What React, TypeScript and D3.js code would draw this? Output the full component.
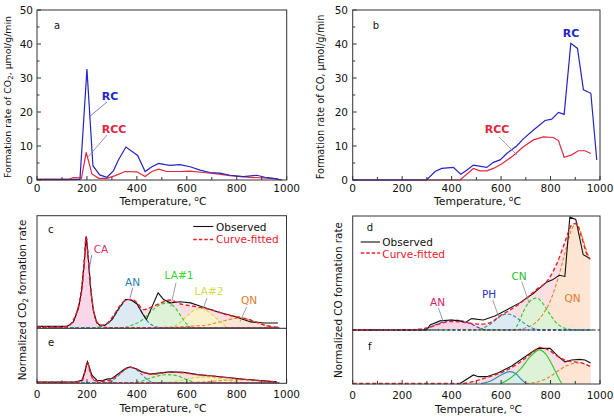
import React from "react";
import * as d3 from "d3";

// ---------- Panel a (CO2 formation rate) ----------
const aRC_T = [0, 100, 172, 200, 224, 251, 280, 306, 326, 356, 403, 433, 460, 487, 513, 533, 573, 613, 653, 693, 733, 773, 826, 880, 913, 946, 982];
const aRC_V = [0.1, 0.1, 0.2, 32.6, 4.2, 1.5, 0.8, 2.7, 5.9, 9.7, 7.2, 2.5, 3.9, 4.9, 4.5, 4.3, 4.5, 3.9, 2.9, 2.2, 2.0, 1.4, 1.0, 1.4, 0.8, 0.5, 0];
const aRCC_T = [0, 130, 145, 170, 178, 197, 220, 247, 280, 313, 353, 400, 433, 460, 487, 520, 573, 613, 667, 720, 773, 853, 907, 947, 965];
const aRCC_V = [0.3, 0.3, 0.7, 0.6, 0.5, 8.1, 1.8, 0.5, 0.5, 1.3, 2.5, 2.4, 1.0, 2.5, 3.2, 2.5, 2.5, 2.6, 2.2, 1.8, 1.3, 0.8, 0.6, 0.4, 0.4];

// ---------- Panel b (CO formation rate) ----------
const bRC_T = [0, 299, 333, 360, 407, 437, 461, 488, 542, 569, 596, 623, 663, 690, 731, 778, 805, 832, 855, 882, 909, 933, 963, 987];
const bRC_V = [0, 0, 2.5, 3.4, 3.7, 1.7, 2.9, 4.4, 3.7, 5.2, 5.9, 7.8, 10.0, 12.1, 14.7, 17.5, 17.9, 19.9, 19.3, 40.2, 38.7, 26.5, 25.5, 5.9];
const bRCC_T = [0, 434, 488, 515, 542, 569, 602, 650, 690, 731, 771, 811, 832, 855, 886, 912, 939, 963];
const bRCC_V = [0, 0, 3.4, 2.7, 2.7, 3.4, 4.7, 7.2, 9.8, 11.8, 12.7, 12.5, 11.6, 6.7, 7.4, 8.6, 8.6, 7.8];

// ---------- Panel c (normalized CO2, RC) ----------
const cObs_T = [0, 120, 146, 166, 179, 189, 197, 206, 216, 226, 240, 253, 273, 300, 327, 354, 374, 401, 421, 438, 485, 507, 534, 574, 615, 655, 722, 789, 856, 910, 965];
const cObs_V = [0.01, 0.01, 0.05, 0.17, 0.33, 0.57, 0.81, 0.6, 0.32, 0.15, 0.04, 0.02, 0.02, 0.07, 0.17, 0.25, 0.25, 0.21, 0.13, 0.07, 0.31, 0.25, 0.22, 0.23, 0.22, 0.19, 0.14, 0.10, 0.05, 0.04, 0.04];
const cFit_T = [0, 100, 120, 146, 166, 179, 189, 197, 206, 216, 226, 240, 260, 287, 307, 334, 361, 381, 401, 428, 455, 488, 530, 574, 628, 695, 776, 810, 843, 880, 915, 950, 970];
const cFit_V = [0.005, 0.005, 0.01, 0.07, 0.19, 0.33, 0.57, 0.81, 0.6, 0.33, 0.16, 0.05, 0.02, 0.05, 0.11, 0.2, 0.25, 0.25, 0.22, 0.16, 0.18, 0.21, 0.245, 0.21, 0.19, 0.16, 0.105, 0.093, 0.075, 0.047, 0.02, 0.005, 0.003];
const cCA_T = [0, 110, 140, 160, 175, 187, 197, 206, 216, 226, 240, 260, 285, 970];
const cCA_V = [0, 0, 0.04, 0.14, 0.3, 0.55, 0.81, 0.6, 0.32, 0.15, 0.04, 0.008, 0, 0];
const cAN_T = [0, 230, 270, 300, 330, 360, 385, 405, 425, 445, 470, 495, 970];
const cAN_V = [0, 0, 0.02, 0.07, 0.17, 0.245, 0.24, 0.19, 0.12, 0.05, 0.012, 0, 0];
const cLA1_T = [0, 340, 380, 420, 455, 490, 525, 555, 580, 600, 620, 970];
const cLA1_V = [0, 0, 0.02, 0.065, 0.14, 0.2, 0.22, 0.17, 0.09, 0.03, 0, 0];
const cLA2_T = [0, 530, 570, 600, 630, 655, 680, 710, 740, 765, 970];
const cLA2_V = [0, 0, 0.04, 0.1, 0.155, 0.17, 0.15, 0.1, 0.04, 0, 0];
const cQN_T = [0, 480, 560, 620, 680, 740, 790, 815, 845, 880, 915, 950, 970];
const cQN_V = [0, 0, 0.005, 0.012, 0.022, 0.055, 0.08, 0.085, 0.072, 0.045, 0.018, 0.003, 0];

// ---------- Panel e (normalized CO2, RCC) ----------
const eObs_T = [0, 150, 180, 190, 202, 220, 240, 260, 280, 300, 327, 354, 374, 394, 420, 454, 494, 534, 588, 641, 695, 775, 842, 909, 960];
const eObs_V = [0.005, 0.005, 0.02, 0.08, 0.185, 0.065, 0.02, 0.015, 0.03, 0.036, 0.08, 0.125, 0.14, 0.125, 0.095, 0.075, 0.086, 0.095, 0.09, 0.07, 0.06, 0.042, 0.027, 0.015, 0.006];
const eFit_T = [0, 150, 180, 192, 202, 212, 225, 250, 290, 320, 350, 375, 400, 430, 470, 520, 570, 620, 680, 740, 800, 860, 920, 960];
const eFit_V = [0.003, 0.003, 0.01, 0.1, 0.18, 0.1, 0.03, 0.01, 0.02, 0.06, 0.115, 0.135, 0.12, 0.085, 0.075, 0.09, 0.09, 0.078, 0.062, 0.048, 0.034, 0.022, 0.01, 0.003];
const eCA_T = [0, 170, 185, 195, 202, 210, 220, 235, 250, 970];
const eCA_V = [0, 0, 0.05, 0.13, 0.185, 0.12, 0.05, 0.01, 0, 0];
const eAN_T = [0, 280, 310, 340, 370, 395, 420, 445, 470, 970];
const eAN_V = [0, 0, 0.03, 0.09, 0.135, 0.12, 0.07, 0.02, 0, 0];
const eLA1_T = [0, 390, 430, 470, 520, 560, 600, 640, 970];
const eLA1_V = [0, 0, 0.02, 0.05, 0.07, 0.06, 0.025, 0, 0];
const eLA2_T = [0, 520, 580, 640, 680, 730, 780, 810, 970];
const eLA2_V = [0, 0, 0.02, 0.045, 0.05, 0.035, 0.01, 0, 0];
const eQN_T = [0, 600, 700, 780, 840, 900, 950, 970];
const eQN_V = [0, 0, 0.01, 0.022, 0.025, 0.015, 0.003, 0];

// ---------- Panel d (normalized CO, RC) ----------
const dObs_T = [0, 299, 313, 353, 394, 434, 454, 481, 528, 575, 622, 677, 730, 784, 808, 835, 858, 878, 902, 932, 958];
const dObs_V = [0, 0, 0.044, 0.08, 0.088, 0.08, 0.064, 0.1, 0.088, 0.123, 0.175, 0.24, 0.32, 0.42, 0.44, 0.48, 0.47, 0.99, 0.97, 0.66, 0.63];
const dFit_T = [0, 200, 280, 320, 360, 400, 440, 480, 520, 560, 600, 640, 690, 740, 790, 825, 858, 885, 902, 925, 950, 960];
const dFit_V = [0, 0, 0.01, 0.03, 0.06, 0.075, 0.07, 0.058, 0.05, 0.07, 0.13, 0.18, 0.257, 0.35, 0.44, 0.58, 0.77, 0.92, 0.935, 0.82, 0.65, 0.62];
const dAN_T = [0, 260, 300, 340, 380, 410, 440, 480, 510, 540, 970];
const dAN_V = [0, 0, 0.015, 0.05, 0.08, 0.088, 0.08, 0.05, 0.02, 0, 0];
const dPH_T = [0, 490, 530, 570, 600, 625, 650, 680, 710, 740, 760, 970];
const dPH_V = [0, 0, 0.02, 0.075, 0.125, 0.14, 0.125, 0.08, 0.035, 0.008, 0, 0];
const dCN_T = [0, 650, 670, 690, 715, 745, 770, 800, 830, 860, 900, 970];
const dCN_V = [0, 0, 0.06, 0.16, 0.25, 0.28, 0.23, 0.13, 0.05, 0.015, 0, 0];
const dQN_T = [0, 650, 700, 740, 770, 800, 830, 860, 885, 905, 925, 945, 960];
const dQN_V = [0, 0, 0.02, 0.065, 0.14, 0.26, 0.45, 0.69, 0.88, 0.935, 0.84, 0.7, 0.62];

// ---------- Panel f (normalized CO, RCC) ----------
const fObs_T = [434, 488, 508, 542, 589, 643, 697, 737, 751, 798, 832, 858, 885, 919, 939, 962];
const fObs_V = [0, 0.075, 0.06, 0.06, 0.095, 0.153, 0.235, 0.294, 0.308, 0.308, 0.235, 0.19, 0.206, 0.212, 0.206, 0.18];
const fFit_T = [0, 441, 508, 562, 616, 670, 724, 757, 791, 832, 865, 899, 932, 962];
const fFit_V = [0, 0, 0.03, 0.066, 0.11, 0.177, 0.265, 0.317, 0.294, 0.235, 0.2, 0.19, 0.177, 0.148];
const fPH_T = [520, 560, 600, 635, 660, 680, 700];
const fPH_V = [0, 0.025, 0.075, 0.104, 0.085, 0.04, 0];
const fCN_T = [600, 640, 680, 720, 755, 780, 805, 830, 845];
const fCN_V = [0, 0.05, 0.13, 0.24, 0.295, 0.26, 0.17, 0.06, 0];
const fQN_T = [700, 750, 790, 830, 870, 910, 940, 962];
const fQN_V = [0, 0.015, 0.05, 0.11, 0.16, 0.18, 0.17, 0.148];

const xTicksMajor = [0, 200, 400, 600, 800, 1000];
const yTicksTop = [0, 10, 20, 30, 40, 50];

const FONT = "'DejaVu Sans', Verdana, sans-serif";

type Sc = d3.ScaleLinear<number, number>;

const pts = (T: number[], V: number[]) => T.map((t, i) => [t, V[i]] as [number, number]);

function linePath(x: Sc, y: Sc, T: number[], V: number[], smooth: boolean) {
  const l = d3.line<[number, number]>().x(d => x(d[0])).y(d => y(d[1]));
  if (smooth) l.curve(d3.curveMonotoneX);
  return l(pts(T, V)) || "";
}
function areaPath(x: Sc, y: Sc, T: number[], V: number[]) {
  const a = d3.area<[number, number]>().x(d => x(d[0])).y0(y(0)).y1(d => y(d[1])).curve(d3.curveMonotoneX);
  return a(pts(T, V)) || "";
}

const xL = d3.scaleLinear().domain([0, 1000]).range([37, 286.7]);
const xR = d3.scaleLinear().domain([0, 1000]).range([352.7, 600]);
const yTop = d3.scaleLinear().domain([0, 50]).range([180, 10]);
const yC = d3.scaleLinear().domain([0, 1]).range([327.5, 215.5]);
const yE = d3.scaleLinear().domain([0, 1]).range([382.5, 270.5]);
const yD = d3.scaleLinear().domain([0, 1]).range([330, 216]);
const yF = d3.scaleLinear().domain([0, 1]).range([383.5, 269.5]);

function XTicks({ x, yb, labelY }: { x: Sc; yb: number; labelY: number }) {
  const minor = x.ticks(10);
  return (
    <g>
      {minor.map(t => (
        <line key={"m" + t} x1={x(t)} x2={x(t)} y1={yb} y2={yb - (t % 200 === 0 ? 4 : 3)} stroke="#333" strokeWidth={1} />
      ))}
      {xTicksMajor.map(t => (
        <text key={"l" + t} x={x(t)} y={labelY} textAnchor="middle" fontSize={10.5} fontFamily={FONT} fill="#111">{t}</text>
      ))}
    </g>
  );
}

function YTicks({ y, xl, labelX }: { y: Sc; xl: number; labelX: number }) {
  const minor = d3.range(0, 51, 5);
  return (
    <g>
      {minor.map(t => (
        <line key={"m" + t} x1={xl} x2={xl + (t % 10 === 0 ? 4 : 2.5)} y1={y(t)} y2={y(t)} stroke="#333" strokeWidth={1} />
      ))}
      {yTicksTop.map(t => (
        <text key={"l" + t} x={labelX} y={y(t) + 4} textAnchor="end" fontSize={10.5} fontFamily={FONT} fill="#111">{t}</text>
      ))}
    </g>
  );
}

function TempTitle({ cx, y }: { cx: number; y: number }) {
  return (
    <text x={cx} y={y} textAnchor="middle" fontSize={10.8} fontFamily={FONT} fill="#111">
      Temperature,
      <tspan fontSize={7.5} dx={3} dy={-4}>o</tspan>
      <tspan dy={4}>C</tspan>
    </text>
  );
}

type Comp = { T: number[]; V: number[]; fill: string; stroke: string; solid?: boolean };

function Decomp({ x, y, obsT, obsV, fitT, fitV, comps, fitFill }: { x: Sc; y: Sc; obsT: number[]; obsV: number[]; fitT: number[]; fitV: number[]; comps: Comp[]; fitFill: string }) {
  return (
    <g>
      <path d={areaPath(x, y, fitT, fitV)} fill={fitFill} />
      {comps.map((c, i) => (
        <path key={"a" + i} d={areaPath(x, y, c.T, c.V)} fill={c.fill} fillOpacity={0.8} />
      ))}
      {comps.map((c, i) => (
        <path key={"l" + i} d={linePath(x, y, c.T, c.V, true)} fill="none" stroke={c.stroke} strokeWidth={1.1} strokeDasharray={c.solid ? undefined : "3.5,2"} />
      ))}
      <path d={linePath(x, y, obsT, obsV, false)} fill="none" stroke="#111" strokeWidth={1.1} />
      <path d={linePath(x, y, fitT, fitV, true)} fill="none" stroke="#e8202a" strokeWidth={1.4} strokeDasharray="4,2.5" />
    </g>
  );
}

function Lbl({ x, y, t, c, bold, size, anchor }: { x: number; y: number; t: string; c: string; bold?: boolean; size?: number; anchor?: string }) {
  return (
    <text x={x} y={y} textAnchor={(anchor as any) || "middle"} fontSize={size || 10.5} fontWeight={bold ? "bold" : "normal"} fontFamily={FONT} fill={c}>{t}</text>
  );
}

function Leader({ x1, y1, x2, y2, c }: { x1: number; y1: number; x2: number; y2: number; c: string }) {
  return <line x1={x1} y1={y1} x2={x2} y2={y2} stroke={c} strokeWidth={0.8} />;
}

const BLUE = "#2424c8";
const RED = "#e3263e";

export default function App() {
  return (
    <svg width={614} height={417} viewBox="0 0 614 417" style={{ position: "absolute", left: 0, top: 0, background: "#fff" }}>
      <rect x={0} y={0} width={614} height={417} fill="#fff" />

      {/* ---------- Panel a ---------- */}
      <path d={linePath(xL, yTop, aRCC_T, aRCC_V, false)} fill="none" stroke={RED} strokeWidth={1.2} />
      <path d={linePath(xL, yTop, aRC_T, aRC_V, false)} fill="none" stroke={BLUE} strokeWidth={1.2} />
      <rect x={37} y={10} width={249.7} height={170} fill="none" stroke="#333" strokeWidth={1} />
      <XTicks x={xL} yb={180} labelY={191.5} />
      <YTicks y={yTop} xl={37} labelX={33} />
      <TempTitle cx={163} y={205} />
      <text transform="translate(10.5,97) rotate(-90)" textAnchor="middle" fontSize={9.4} fontFamily={FONT} fill="#111">
        Formation rate of CO<tspan fontSize={7} dy={2}>2</tspan><tspan dy={-2}>, μmol/g/min</tspan>
      </text>
      <Lbl x={57} y={28.5} t="a" c="#111" size={10} />
      <Lbl x={110} y={100} t="RC" c={BLUE} bold size={11} />
      <Leader x1={107} y1={102} x2={89} y2={117} c="#5a5ad0" />
      <Lbl x={114} y={133} t="RCC" c={RED} bold size={11} />
      <Leader x1={107} y1={135} x2={88} y2={157} c="#7a7ac8" />

      {/* ---------- Panel b ---------- */}
      <path d={linePath(xR, yTop, bRCC_T, bRCC_V, false)} fill="none" stroke={RED} strokeWidth={1.2} />
      <path d={linePath(xR, yTop, bRC_T, bRC_V, false)} fill="none" stroke={BLUE} strokeWidth={1.2} />
      <rect x={352.7} y={10} width={247.3} height={170} fill="none" stroke="#333" strokeWidth={1} />
      <XTicks x={xR} yb={180} labelY={191.5} />
      <YTicks y={yTop} xl={352.7} labelX={348} />
      <TempTitle cx={477.5} y={205} />
      <text transform="translate(323.5,97) rotate(-90)" textAnchor="middle" fontSize={9.8} fontFamily={FONT} fill="#111">
        Formation rate of CO, μmol/g/min
      </text>
      <Lbl x={376} y={28.5} t="b" c="#111" size={10} />
      <Lbl x={571} y={37} t="RC" c={BLUE} bold size={11} />
      <Lbl x={497} y={133} t="RCC" c={RED} bold size={11} />
      <Leader x1={499} y1={137} x2={517} y2={155} c="#888" />

      {/* ---------- Panel c / e ---------- */}
      <Decomp x={xL} y={yC} obsT={cObs_T} obsV={cObs_V} fitT={cFit_T} fitV={cFit_V} fitFill="#fbdfe2"
        comps={[
          { T: cQN_T, V: cQN_V, fill: "#fde6d0", stroke: "#e8822a" },
          { T: cLA2_T, V: cLA2_V, fill: "#f7f5c6", stroke: "#d6d63c" },
          { T: cLA1_T, V: cLA1_V, fill: "#d6f6d4", stroke: "#2ecc2e" },
          { T: cAN_T, V: cAN_V, fill: "#d6ebf7", stroke: "#2b8fb5" },
          { T: cCA_T, V: cCA_V, fill: "#f9d3ea", stroke: "#e02a6a" },
        ]} />
      <Decomp x={xL} y={yE} obsT={eObs_T} obsV={eObs_V} fitT={eFit_T} fitV={eFit_V} fitFill="#fbdfe2"
        comps={[
          { T: eQN_T, V: eQN_V, fill: "#fde6d0", stroke: "#e8822a" },
          { T: eLA2_T, V: eLA2_V, fill: "#f7f5c6", stroke: "#d6d63c" },
          { T: eLA1_T, V: eLA1_V, fill: "#d6f6d4", stroke: "#2ecc2e" },
          { T: eAN_T, V: eAN_V, fill: "#d6ebf7", stroke: "#2b8fb5" },
          { T: eCA_T, V: eCA_V, fill: "#f9d3ea", stroke: "#e02a6a" },
        ]} />
      <rect x={37} y={215.7} width={249.5} height={167.6} fill="none" stroke="#333" strokeWidth={1} />
      <line x1={37} x2={286.5} y1={328.3} y2={328.3} stroke="#222" strokeWidth={1} />
      <XTicks x={xL} yb={383.3} labelY={397.5} />
      <TempTitle cx={163} y={412} />
      <text transform="translate(25.5,300) rotate(-90)" textAnchor="middle" fontSize={10.4} fontFamily={FONT} fill="#111">
        Normalized CO<tspan fontSize={7.5} dy={2}>2</tspan><tspan dy={-2}> formation rate</tspan>
      </text>
      <Lbl x={48} y={233} t="c" c="#111" size={10} anchor="start" />
      <Lbl x={48} y={346} t="e" c="#111" size={10} anchor="start" />
      <line x1={193.3} x2={213.3} y1={226.5} y2={226.5} stroke="#111" strokeWidth={1.1} />
      <Lbl x={216} y={230.5} t="Observed" c="#111" anchor="start" />
      <line x1={193.3} x2={213.3} y1={239.5} y2={239.5} stroke="#e8202a" strokeWidth={1.3} strokeDasharray="3.5,2" />
      <Lbl x={216} y={243} t="Curve-fitted" c="#e8202a" anchor="start" />
      <Lbl x={101} y={253} t="CA" c="#e0306a" />
      <Leader x1={91.7} y1={255} x2={89} y2={271} c="#5a6ad0" />
      <Lbl x={132.5} y={286} t="AN" c="#1f84a8" />
      <Leader x1={132.7} y1={288} x2={130} y2={298} c="#5a6ad0" />
      <Lbl x={179} y={279} t="LA#1" c="#33d633" />
      <Leader x1={176} y1={282.7} x2={170.7} y2={306.7} c="#888" />
      <Lbl x={209} y={295} t="LA#2" c="#d9d94a" />
      <Leader x1={207} y1={298} x2={203} y2={309} c="#888" />
      <Lbl x={249} y={304} t="QN" c="#e07a2a" />
      <Leader x1={246.7} y1={306.7} x2={240} y2={321.7} c="#888" />

      {/* ---------- Panel d / f ---------- */}
      <Decomp x={xR} y={yD} obsT={dObs_T} obsV={dObs_V} fitT={dFit_T} fitV={dFit_V} fitFill="#fbdfe2"
        comps={[
          { T: dQN_T, V: dQN_V, fill: "#fde6d0", stroke: "#e8822a" },
          { T: dCN_T, V: dCN_V, fill: "#d6f6d4", stroke: "#2ecc2e" },
          { T: dPH_T, V: dPH_V, fill: "#d6ebf7", stroke: "#2b8fb5" },
          { T: dAN_T, V: dAN_V, fill: "#f8d0ec", stroke: "#3040c0" },
        ]} />
      <line x1={352.7} x2={600} y1={330} y2={330} stroke="#223" strokeWidth={1} strokeDasharray="3,2" />
      <Decomp x={xR} y={yF} obsT={fObs_T} obsV={fObs_V} fitT={fFit_T} fitV={fFit_V} fitFill="#fbdfe2"
        comps={[
          { T: fQN_T, V: fQN_V, fill: "#fde6d0", stroke: "#e8822a" },
          { T: fCN_T, V: fCN_V, fill: "#d6f6d4", stroke: "#2ecc2e", solid: true },
          { T: fPH_T, V: fPH_V, fill: "#d6ebf7", stroke: "#2b8fb5", solid: true },
        ]} />
      <rect x={352.7} y={216} width={247.3} height={168} fill="none" stroke="#333" strokeWidth={1} />
      <XTicks x={xR} yb={384} labelY={399} />
      <TempTitle cx={478.5} y={412.5} />
      <text transform="translate(342,300) rotate(-90)" textAnchor="middle" fontSize={10.4} fontFamily={FONT} fill="#111">
        Normalized CO formation rate
      </text>
      <Lbl x={366.7} y={230.7} t="d" c="#111" size={10} anchor="start" />
      <Lbl x={368} y={350} t="f" c="#111" size={10} anchor="start" />
      <line x1={360.7} x2={380} y1={242} y2={242} stroke="#111" strokeWidth={1.1} />
      <Lbl x={382.3} y={246} t="Observed" c="#111" anchor="start" />
      <line x1={360.7} x2={380} y1={253} y2={253} stroke="#e8202a" strokeWidth={1.3} strokeDasharray="3.5,2" />
      <Lbl x={382.3} y={257.5} t="Curve-fitted" c="#e8202a" anchor="start" />
      <Lbl x={437.5} y={306} t="AN" c="#d0206e" />
      <Leader x1={438.3} y1={307.7} x2={443.3} y2={321.7} c="#6a7ad0" />
      <Lbl x={489} y={297.5} t="PH" c="#1f2fc0" />
      <Leader x1={492.7} y1={300} x2={499.3} y2={318.3} c="#888" />
      <Lbl x={519} y={280} t="CN" c="#22c022" />
      <Leader x1={521.7} y1={281.7} x2={529.3} y2={303.3} c="#888" />
      <Lbl x={572.5} y={302} t="QN" c="#e07a2a" />
    </svg>
  );
}
